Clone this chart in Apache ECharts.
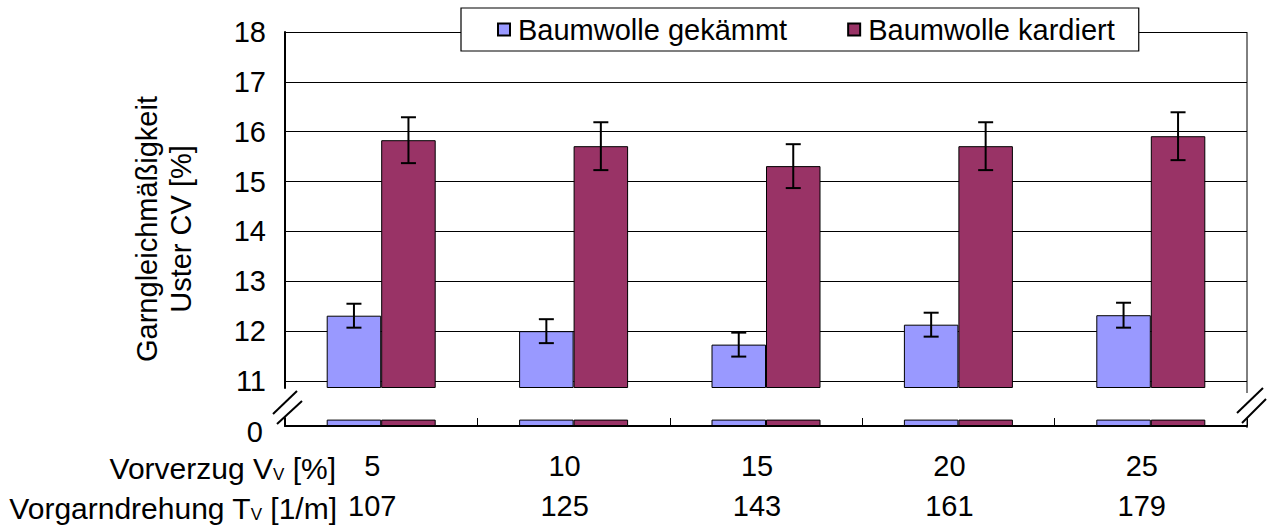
<!DOCTYPE html>
<html>
<head>
<meta charset="utf-8">
<script src="https://cdn.jsdelivr.net/npm/echarts@6/dist/echarts.min.js"></script>
<style>
html,body{margin:0;padding:0;background:#fff;}
#c{width:1269px;height:526px;}
</style>
</head>
<body>
<div id="c"></div>
<script>
// ---- data ----
const categories = ['5', '10', '15', '20', '25'];
const vorverzug = ['5', '10', '15', '20', '25'];
const vorgarndrehung = ['107', '125', '143', '161', '179'];
const gekaemmt = [12.31, 12.00, 11.73, 12.13, 12.32];
const gekaemmtErr = [0.24, 0.24, 0.24, 0.24, 0.25];
const kardiert = [15.83, 15.71, 15.31, 15.71, 15.91];
const kardiertErr = [0.46, 0.48, 0.44, 0.48, 0.48];
const upperTicks = [11, 12, 13, 14, 15, 16, 17, 18];
const lowerTicks = [0];

// ---- style constants ----
const FONT = '"Liberation Sans", Arial, sans-serif';
const FS = 29;
const FS_ROW = 30;
const C_GEK = '#9999FF';
const C_KAR = '#993366';
const BAR_W = 54.5;
const BREAK_HI = 10.86;   // upper panel starts here
const LOWER_MAX = 1;      // lower panel axis top
const STUB = 0.8;         // visible stub of broken bars in lower panel

const chart = echarts.init(document.getElementById('c'), null, {renderer: 'svg'});

function errRender(sign) {
  return function (params, api) {
    const i = api.value(0), v = api.value(1), e = api.value(2);
    const top = api.coord([i, v + e]);
    const bot = api.coord([i, v - e]);
    const cx = top[0] + sign * BAR_W / 2;
    const cap = 7.5;
    const st = {stroke: '#000', lineWidth: 2};
    return {type: 'group', children: [
      {type: 'line', shape: {x1: cx, y1: top[1], x2: cx, y2: bot[1]}, style: st},
      {type: 'line', shape: {x1: cx - cap, y1: top[1], x2: cx + cap, y2: top[1]}, style: st},
      {type: 'line', shape: {x1: cx - cap, y1: bot[1], x2: cx + cap, y2: bot[1]}, style: st}
    ]};
  };
}

const barStyle = (c) => ({color: c, borderColor: '#000', borderWidth: 1});
const lineSt = {stroke: '#000', lineWidth: 1};
const slashSt = {stroke: '#000', lineWidth: 2};
const rowRich = {
  a: {fontSize: FS_ROW, fontFamily: FONT, fill: '#000'},
  s: {fontSize: 17, fontFamily: FONT, fill: '#000', padding: [12, 0, 0, 0]}
};

chart.setOption({
  animation: false,
  textStyle: {fontFamily: FONT, color: '#000'},
  legend: {
    left: 461, top: 8,
    padding: [7, 24, 7, 36],
    itemGap: 60,
    itemWidth: 12, itemHeight: 12,
    backgroundColor: '#fff',
    borderColor: '#000', borderWidth: 1.2,
    textStyle: {fontSize: FS, fontFamily: FONT, color: '#000', padding: [0, 0, 0, 3]},
    data: [
      {name: 'Baumwolle gekämmt', icon: 'rect'},
      {name: 'Baumwolle kardiert', icon: 'rect'}
    ],
    z: 10
  },
  grid: [
    {left: 285, right: 22, top: 32, bottom: 138},
    {left: 285, right: 22, top: 418, bottom: 98}
  ],
  xAxis: [
    {type: 'category', gridIndex: 0, data: categories, show: false},
    {type: 'category', gridIndex: 1, data: categories,
      axisLine: {show: true, lineStyle: {color: '#000', width: 2}},
      axisTick: {show: true, inside: true, length: 8, alignWithLabel: false, lineStyle: {color: '#000', width: 1}},
      axisLabel: {
        fontSize: FS, fontFamily: FONT, color: '#000', lineHeight: 40, margin: 20,
        padding: [0, 18, 0, 0],
        formatter: (v, i) => vorverzug[i] + '\n' + vorgarndrehung[i]
      }
    }
  ],
  yAxis: [
    {type: 'value', gridIndex: 0, min: BREAK_HI, max: 18, minInterval: 1, maxInterval: 1, splitNumber: 8,
      startValue: BREAK_HI,
      axisLine: {show: true, lineStyle: {color: '#000', width: 2}},
      axisTick: {show: false},
      axisLabel: {fontSize: FS, fontFamily: FONT, color: '#000', margin: 19, showMinLabel: false,
        formatter: (v) => upperTicks.indexOf(Math.round(v * 100) / 100) >= 0 ? String(v) : ''},
      splitLine: {show: true, showMinLine: false, lineStyle: {color: '#000', width: 1}}
    },
    {type: 'value', gridIndex: 1, min: 0, max: LOWER_MAX, interval: LOWER_MAX,
      axisLine: {show: true, lineStyle: {color: '#000', width: 2}},
      axisTick: {show: false},
      axisLabel: {color: '#000', margin: 22, showMaxLabel: false,
        formatter: (v) => lowerTicks.indexOf(v) >= 0 ? '{z|' + v + '}' : '',
        rich: {z: {fontSize: FS, fontFamily: FONT, color: '#000', padding: [11, 0, 0, 0]}}},
      splitLine: {show: false}
    }
  ],
  series: [
    {name: 'Baumwolle gekämmt', type: 'bar', xAxisIndex: 0, yAxisIndex: 0, data: gekaemmt,
      barWidth: BAR_W, barGap: '0%', itemStyle: barStyle(C_GEK), z: 2},
    {name: 'Baumwolle kardiert', type: 'bar', xAxisIndex: 0, yAxisIndex: 0, data: kardiert,
      barWidth: BAR_W, barGap: '0%', itemStyle: barStyle(C_KAR), z: 2},
    {name: 'Baumwolle gekämmt', type: 'bar', xAxisIndex: 1, yAxisIndex: 1,
      data: gekaemmt.map(v => Math.min(v, STUB)),
      barWidth: BAR_W, barGap: '0%', itemStyle: barStyle(C_GEK), z: 2},
    {name: 'Baumwolle kardiert', type: 'bar', xAxisIndex: 1, yAxisIndex: 1,
      data: kardiert.map(v => Math.min(v, STUB)),
      barWidth: BAR_W, barGap: '0%', itemStyle: barStyle(C_KAR), z: 2},
    {type: 'custom', xAxisIndex: 0, yAxisIndex: 0, renderItem: errRender(-1), z: 5,
      data: gekaemmt.map((v, i) => [i, v, gekaemmtErr[i]])},
    {type: 'custom', xAxisIndex: 0, yAxisIndex: 0, renderItem: errRender(1), z: 5,
      data: kardiert.map((v, i) => [i, v, kardiertErr[i]])}
  ],
  graphic: [
    // right frame
    {type: 'line', shape: {x1: 1247, y1: 32, x2: 1247, y2: 393}, style: lineSt, silent: true},
    {type: 'line', shape: {x1: 1247, y1: 419, x2: 1247, y2: 428}, style: lineSt, silent: true},
    // break marks
    {type: 'line', shape: {x1: 273, y1: 414, x2: 297, y2: 391}, style: slashSt, silent: true},
    {type: 'line', shape: {x1: 277, y1: 424, x2: 302, y2: 401}, style: slashSt, silent: true},
    {type: 'line', shape: {x1: 1237, y1: 413, x2: 1263, y2: 388}, style: slashSt, silent: true},
    {type: 'line', shape: {x1: 1242, y1: 423, x2: 1266, y2: 399}, style: slashSt, silent: true},
    // y axis title
    {type: 'text', x: 164, y: 229, rotation: Math.PI / 2, silent: true,
      style: {text: 'Garngleichmäßigkeit\nUster CV [%]', align: 'center', verticalAlign: 'middle',
        fontSize: FS, fontFamily: FONT, fill: '#000', lineHeight: 34}},
    // row labels
    {type: 'text', x: 336, y: 468, silent: true,
      style: {text: '{a|Vorverzug V}{s|V}{a| [%]}', align: 'right', verticalAlign: 'middle',
        fill: '#000', fontFamily: FONT, rich: rowRich}},
    {type: 'text', x: 337, y: 508, silent: true,
      style: {text: '{a|Vorgarndrehung T}{s|V}{a| [1/m]}', align: 'right', verticalAlign: 'middle',
        fill: '#000', fontFamily: FONT, rich: rowRich}}
  ]
});
</script>
</body>
</html>
